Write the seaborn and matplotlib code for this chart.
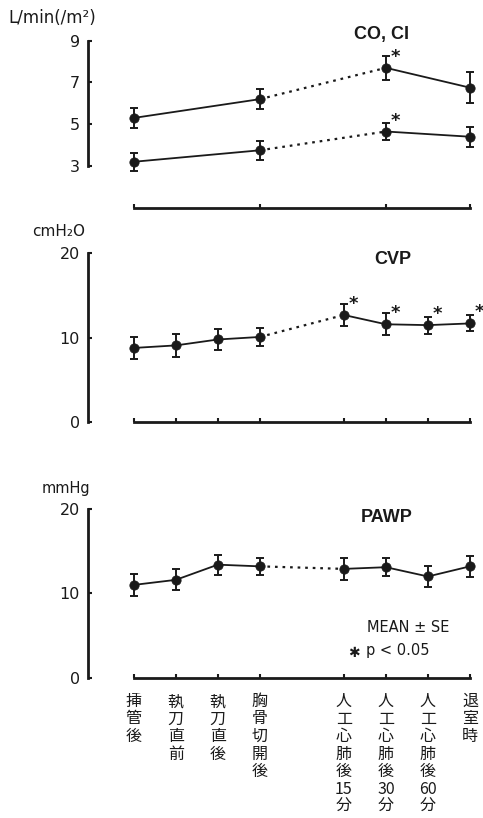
import matplotlib
matplotlib.use('Agg')
import matplotlib.pyplot as plt
import seaborn as sns
import pandas as pd

# time points (index 4 left empty as a gap in the x axis)
X_POS = [0, 1, 2, 3, 5, 6, 7, 8]
X_LABELS = ["挿\n管\n後", "執\n刀\n直\n前", "執\n刀\n直\n後", "胸\n骨\n切\n開\n後",
            "人\n工\n心\n肺\n後\n15\n分", "人\n工\n心\n肺\n後\n30\n分",
            "人\n工\n心\n肺\n後\n60\n分", "退\n室\n時"]

CO_X = [0, 3, 6, 8]
CO = [5.3, 6.2, 7.7, 6.75]
CO_SE = [0.47, 0.48, 0.58, 0.75]
CI = [3.2, 3.75, 4.65, 4.4]
CI_SE = [0.44, 0.45, 0.43, 0.47]
CO_SIG = [False, False, True, False]

CVP = [8.8, 9.1, 9.8, 10.1, 12.7, 11.6, 11.5, 11.7]
CVP_SE = [1.3, 1.4, 1.3, 1.1, 1.25, 1.3, 1.0, 0.95]
CVP_SIG = [False, False, False, False, True, True, True, True]

PAWP = [11.0, 11.6, 13.4, 13.2, 12.9, 13.1, 12.0, 13.2]
PAWP_SE = [1.35, 1.25, 1.2, 1.0, 1.3, 1.1, 1.2, 1.25]
PAWP_SIG = [False] * 8

INK = "#1a1a1a"

sns.set_theme(style="ticks")
plt.rcParams['font.family'] = ['DejaVu Sans', 'Noto Sans CJK JP']

W, H = 483, 818
fig = plt.figure(figsize=(W / 100, H / 100), dpi=100)


def px_axes(top, bottom, left=88):
    return fig.add_axes([left / W, 1 - bottom / H, 1 - left / W, (bottom - top) / H])


def draw_series(ax, xs, ys, se, brk, sig):
    df = pd.DataFrame({"x": xs, "y": ys, "se": se})
    # solid before the break, dotted across it, solid after
    sns.lineplot(data=df.iloc[:brk + 1], x="x", y="y", color=INK, lw=1.3, ax=ax)
    sns.lineplot(data=df.iloc[brk:brk + 2], x="x", y="y", color=INK, lw=1.6,
                 linestyle=(0, (1.2, 2.2)), ax=ax)
    sns.lineplot(data=df.iloc[brk + 1:], x="x", y="y", color=INK, lw=1.3, ax=ax)
    ax.errorbar(df["x"], df["y"], yerr=df["se"], fmt="none", ecolor=INK,
                elinewidth=1.4, capsize=3, capthick=1.4, zorder=3)
    sns.scatterplot(data=df, x="x", y="y", color=INK, s=45, edgecolor=INK,
                    zorder=4, ax=ax, clip_on=False)
    for x, y, s in zip(xs, ys, sig):
        if s:
            ax.annotate("*", (x, y), xytext=(9, 11), textcoords="offset pixels",
                        ha="center", va="center", fontsize=13, fontweight="bold",
                        color=INK, annotation_clip=False)


def style_axes(ax, ylim, ybounds, yticks, xticks):
    ax.set_xlim(-1.09, 8.31)
    ax.set_ylim(*ylim)
    sns.despine(ax=ax)
    for side in ("left", "bottom"):
        ax.spines[side].set_linewidth(2.0)
        ax.spines[side].set_color(INK)
    ax.spines["left"].set_bounds(*ybounds)
    ax.spines["bottom"].set_bounds(0, 8)
    ax.set_yticks(yticks)
    ax.set_xticks(xticks)
    ax.tick_params(direction="in", length=3, width=1.5, colors=INK, labelsize=11.5, pad=6)
    ax.set_xlabel("")
    ax.set_ylabel("")
    ax.patch.set_alpha(0)


def ftext(x, y, s, **kw):
    fig.text(x / W, 1 - y / H, s, color=INK, **kw)


# panel 1: CO, CI
ax1 = px_axes(40.7, 207.7)
draw_series(ax1, CO_X, CO, CO_SE, 1, CO_SIG)
draw_series(ax1, CO_X, CI, CI_SE, 1, CO_SIG)
style_axes(ax1, (1, 9), (3, 9), [3, 5, 7, 9], CO_X)
ax1.set_xticklabels([])

# panel 2: CVP
ax2 = px_axes(253.3, 422.3)
draw_series(ax2, X_POS, CVP, CVP_SE, 3, CVP_SIG)
style_axes(ax2, (0, 20), (0, 20), [0, 10, 20], X_POS)
ax2.set_xticklabels([])

# panel 3: PAWP
ax3 = px_axes(509, 677.7)
draw_series(ax3, X_POS, PAWP, PAWP_SE, 3, PAWP_SIG)
style_axes(ax3, (0, 20), (0, 20), [0, 10, 20], X_POS)
ax3.set_xticklabels(X_LABELS, fontsize=11.5, linespacing=1.04, va="top",
                    family=['Noto Sans CJK JP', 'DejaVu Sans'])
ax3.tick_params(axis="x", pad=11)

title_font = dict(fontsize=13, fontweight="bold", ha="center", va="center",
                  family=['Liberation Sans', 'DejaVu Sans'])
ftext(381, 35, "CO, CI", **title_font)
ftext(393, 260, "CVP", **title_font)
ftext(387, 518, "PAWP", **title_font)

ftext(8, 18, "L/min(/m²)", fontsize=12, ha="left", va="center")
ftext(32, 232, "cmH₂O", fontsize=11, ha="left", va="center")
ftext(42, 488, "mmHg", fontsize=10.5, ha="left", va="center")
ftext(367, 627, "MEAN ± SE", fontsize=10.5, ha="left", va="center")
ftext(354, 653, "✱", fontsize=10, ha="center", va="center")
ftext(366, 651, "p < 0.05", fontsize=10.5, ha="left", va="center")

fig.savefig("out.png", dpi=100, facecolor="white")
